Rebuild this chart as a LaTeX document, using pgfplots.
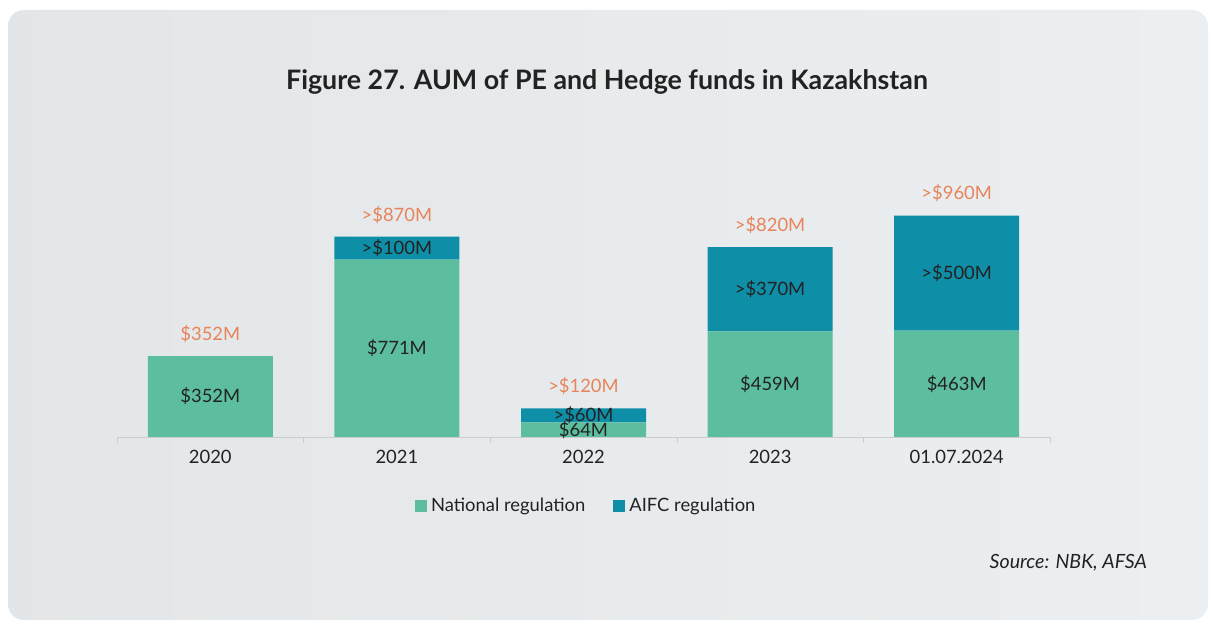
\documentclass[border=0pt]{standalone}
\usepackage{pgfplots}
\pgfplotsset{compat=1.18}
\usepackage{fontspec}
\setmainfont{Lato}
\definecolor{natc}{HTML}{5CBE9F}
\definecolor{aifc}{HTML}{0F8EA8}
\definecolor{orng}{HTML}{E8835A}
\definecolor{bgc}{HTML}{ECEFF1}
\definecolor{txt}{HTML}{222222}
\tikzset{
  lbl/.style={font=\fontsize{9.2}{10}\selectfont, text=txt},
  tot/.style={font=\fontsize{9.2}{10}\selectfont, text=orng, yshift=11pt},
}
\pgfplotsset{
  sqlegend/.style={legend image code/.code={\fill[##1] (0pt,-3pt) rectangle (6pt,3pt);}},
}
\begin{document}
\begin{tikzpicture}
\fill[white] (0pt,0pt) rectangle (605.5pt,313pt);
\shade[left color=bgc!92!gray, right color=bgc, rounded corners=8pt] (4pt,3pt) rectangle (604pt,308pt);
\node[font=\bfseries\fontsize{13.4}{15}\selectfont, text=txt] at (303.5pt,272pt) {Figure 27. AUM of PE and Hedge funds in Kazakhstan};
\node[font=\itshape\fontsize{9.8}{11}\selectfont, text=txt, anchor=east] at (577pt,31.5pt) {Source: NBK, AFSA};
\begin{axis}[
  at={(58.5pt,94.5pt)}, anchor=south west,
  scale only axis, width=466.5pt, height=115pt,
  ybar stacked, bar width=62.5pt,
  xmin=-0.5, xmax=4.5, ymin=0, ymax=1000,
  axis x line*=bottom, axis y line=none,
  axis line style={draw=gray!40},
  xtick={0,1,2,3,4},
  xticklabels={2020,2021,2022,2023,01.07.2024},
  extra x ticks={-0.5,0.5,1.5,2.5,3.5,4.5},
  extra x tick labels={},
  extra x tick style={major tick length=3pt, tick style={draw=gray!40}},
  major tick length=0pt,
  tick align=outside,
  /pgf/number format/assume math mode=true,
  ticklabel style={font=\fontsize{9.2}{10}\selectfont, text=txt},
  xticklabel style={yshift=-3pt},
  clip=false,
  legend columns=2,
  legend style={at={(0.504,-0.3)}, anchor=center, draw=none, fill=none,
    font=\fontsize{9.2}{10}\selectfont, text=txt,
    /tikz/every even column/.append style={column sep=12pt}},
  sqlegend,
]
\addplot[fill=natc, draw=none] coordinates {(0,352) (1,771) (2,64) (3,459) (4,463)};
\addplot[fill=aifc, draw=none] coordinates {(0,0) (1,100) (2,60) (3,367) (4,500)};
\legend{National regulation, AIFC regulation}
\coordinate (n0) at (axis cs:0,176);
\coordinate (n1) at (axis cs:1,385.5);
\coordinate (a1) at (axis cs:1,821);
\coordinate (n2) at (axis cs:2,30);
\coordinate (a2) at (axis cs:2,96);
\coordinate (n3) at (axis cs:3,229.5);
\coordinate (a3) at (axis cs:3,642.5);
\coordinate (n4) at (axis cs:4,231.5);
\coordinate (a4) at (axis cs:4,713);
\coordinate (t0) at (axis cs:0,352);
\coordinate (t1) at (axis cs:1,871);
\coordinate (t2) at (axis cs:2,124);
\coordinate (t3) at (axis cs:3,826);
\coordinate (t4) at (axis cs:4,963);
\end{axis}
\node[lbl] at (n0) {\$352M};
\node[lbl] at (n1) {\$771M};
\node[lbl] at (a1) {>\$100M};
\node[lbl] at (n2) {\$64M};
\node[lbl] at (a2) {>\$60M};
\node[lbl] at (n3) {\$459M};
\node[lbl] at (a3) {>\$370M};
\node[lbl] at (n4) {\$463M};
\node[lbl] at (a4) {>\$500M};
\node[tot] at (t0) {\$352M};
\node[tot] at (t1) {>\$870M};
\node[tot] at (t2) {>\$120M};
\node[tot] at (t3) {>\$820M};
\node[tot] at (t4) {>\$960M};
\end{tikzpicture}
\end{document}
